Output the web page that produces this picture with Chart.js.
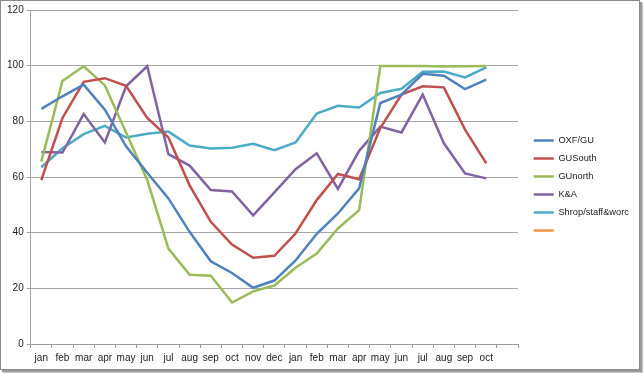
<!DOCTYPE html>
<html lang="en">
<head>
  <meta charset="UTF-8" />
  <title>Regional line chart</title>
  <script src="https://cdn.jsdelivr.net/npm/chart.js"></script>
  <style>
    html, body { margin: 0; padding: 0; background: #fff; }
    #frame {
      position: absolute; left: 0; top: 0;
      width: 638px; height: 368px;
      border: 1px solid #8c8c8c;
      box-shadow: 2px 2px 0 #9a9a9a, 3px 3px 1px #c8c8c8;
      background: #fff;
    }
  </style>
</head>
<body>
  <div id="frame"><canvas id="chart" width="638" height="368"></canvas></div>

  <script>
    // categories (last slot is an empty month)
    const months = ['jan','feb','mar','apr','may','jun','jul','aug','sep','oct','nov','dec',
                    'jan','feb','mar','apr','may','jun','jul','aug','sep','oct',''];

    const yTicks = [0, 20, 40, 60, 80, 100, 120];

    const oxfGu    = [84.5, 89, 93.2, 84.2, 71, 61.5, 52.3, 40.3, 29.7, 25.5, 20.2, 22.8,
                      30, 39.6, 46.9, 55.9, 86.6, 89.6, 97.1, 96.4, 91.6, 95];
    const guSouth  = [58.9, 81.2, 94.2, 95.5, 92.8, 81.2, 74.2, 57, 43.9, 35.7, 31, 31.7,
                      39.7, 51.7, 61.1, 59.2, 77.6, 89.6, 92.6, 92.2, 77, 64.9];
    const guNorth  = [65.5, 94.5, 99.8, 92.9, 76, 58.9, 34.3, 24.9, 24.5, 14.9, 18.9, 21,
                      27.4, 32.5, 41.5, 48.1, 99.9, 99.9, 99.9, 99.7, 99.8, 99.9];
    const kAndA    = [69, 68.8, 82.6, 72.4, 92.6, 99.8, 68.2, 64.1, 55.3, 54.8, 46.2, 54.5,
                      62.8, 68.5, 55.7, 69.4, 78.1, 76, 89.6, 72.1, 61.3, 59.5];
    const shrop    = [63.5, 70.3, 75.4, 78.4, 74.2, 75.5, 76.3, 71.3, 70.2, 70.5, 71.9, 69.6,
                      72.4, 82.8, 85.6, 85, 90.2, 91.7, 97.8, 97.9, 95.8, 99.4];
    const emptySeries = [];

    const font = { family: '"Liberation Sans", Arial, sans-serif', size: 10 };
    const legendFont = { family: '"Liberation Sans", Arial, sans-serif', size: 9.3 };

    function line(label, data, color) {
      return {
        label: label,
        data: data,
        borderColor: color,
        backgroundColor: color,
        borderWidth: 2.5,
        pointRadius: 0,
        pointStyle: 'line',
        tension: 0,
        fill: false
      };
    }

    // nudge the legend a bit right of the plot and up, like the excel original
    const legendNudge = {
      id: 'legendNudge',
      afterLayout(chart) {
        const lg = chart.legend;
        const w = lg.right - lg.left;
        lg.left = chart.chartArea.right + 7;
        lg.right = lg.left + w;
        lg.top -= 4;
        lg.bottom -= 4;
      }
    };

    new Chart(document.getElementById('chart'), {
      type: 'line',
      data: {
        labels: months,
        datasets: [
          line('OXF/GU', oxfGu, '#4F81BD'),
          line('GUSouth', guSouth, '#C0504D'),
          line('GUnorth', guNorth, '#9BBB59'),
          line('K&A', kAndA, '#8064A2'),
          line('Shrop/staff&worc', shrop, '#4BACC6'),
          line('', emptySeries, '#F79646')
        ]
      },
      options: {
        responsive: false,
        animation: false,
        layout: { padding: { left: 0, top: 9, right: 7, bottom: 0 } },
        plugins: {
          tooltip: { enabled: false },
          legend: {
            position: 'right',
            labels: {
              usePointStyle: true,
              pointStyleWidth: 20,
              boxHeight: 9,
              padding: 8.7,
              color: '#222',
              font: legendFont
            }
          }
        },
        scales: {
          x: {
            offset: true,
            grid: {
              offset: true,
              drawOnChartArea: false,
              drawTicks: true,
              tickLength: 4,
              color: '#9a9a9a'
            },
            border: { color: '#9a9a9a', width: 1 },
            ticks: { color: '#222', font: font, maxRotation: 0, autoSkip: false, padding: 4 },
            afterFit: function (scale) { scale.height = 25; }
          },
          y: {
            min: 0,
            max: 120,
            afterBuildTicks: function (scale) {
              scale.ticks = yTicks.map(v => ({ value: v }));
            },
            grid: { color: '#a6a6a6', tickLength: 4, lineWidth: 1 },
            border: { color: '#a6a6a6', width: 1 },
            ticks: { color: '#222', font: font, padding: 3 },
            afterFit: function (scale) { scale.width = 29.7; }
          }
        }
      },
      plugins: [legendNudge]
    });
  </script>
</body>
</html>
